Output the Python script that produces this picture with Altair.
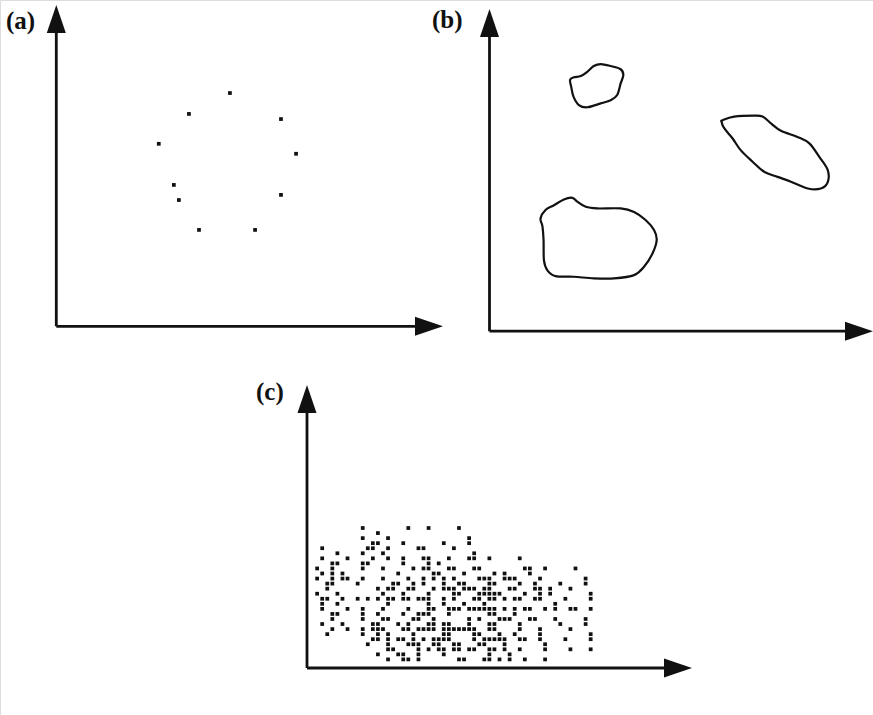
import altair as alt
import pandas as pd

INK = "#111111"

# Panel labels
LABELS = ["(a)", "(b)", "(c)"]

# Panel (a): a loose ring of isolated points
A_X = [4.49, 3.43, 5.81, 2.65, 6.20, 3.04, 3.17, 5.81, 3.69, 5.14]
A_Y = [7.26, 6.61, 6.45, 5.68, 5.37, 4.40, 3.93, 4.09, 3.00, 3.00]

# Panel (b): three outlined clusters (closed contours)
B1_X = [2.10, 2.20, 2.38, 2.55, 2.72, 2.90, 3.16, 3.42, 3.49, 3.42, 3.33, 3.16,
        2.90, 2.55, 2.33, 2.19, 2.13]
B1_Y = [7.80, 7.88, 7.92, 8.05, 8.23, 8.29, 8.23, 8.13, 7.95, 7.69, 7.33, 7.17,
        7.07, 6.95, 7.02, 7.28, 7.59]
B2_X = [6.08, 6.38, 6.90, 7.12, 7.34, 7.60, 8.03, 8.34, 8.60, 8.82, 8.82, 8.64,
        8.30, 7.86, 7.51, 7.16, 6.86, 6.55, 6.34, 6.12, 6.05]
B2_Y = [6.55, 6.66, 6.69, 6.66, 6.45, 6.22, 6.03, 5.83, 5.41, 5.00, 4.63, 4.43,
        4.43, 4.64, 4.79, 4.95, 5.26, 5.62, 5.98, 6.30, 6.50]
B3_X = [1.38, 1.33, 1.46, 1.68, 1.94, 2.16, 2.29, 2.51, 2.81, 3.42, 3.77, 4.07,
        4.29, 4.36, 4.25, 4.03, 3.77, 3.25, 2.72, 2.20, 1.72, 1.51, 1.42, 1.41]
B3_Y = [3.26, 3.50, 3.76, 3.91, 4.09, 4.14, 4.02, 3.86, 3.81, 3.81, 3.70, 3.45,
        3.14, 2.83, 2.41, 2.00, 1.74, 1.64, 1.64, 1.69, 1.71, 1.89, 2.20, 2.83]

# Panel (c): a dense cloud on a regular grid; each row lists its occupied
# columns, top row first
C_ROWS = [
    [9, 18, 22, 28],
    [12],
    [9, 14, 30],
    [11, 12, 17, 25, 30],
    [1, 10, 11, 14, 20, 21, 27],
    [4, 9, 13, 31],
    [1, 6, 11, 14, 17, 21, 22, 26, 30, 31, 34, 40],
    [3, 4, 9, 10, 17, 22, 24],
    [0, 3, 9, 13, 19, 21, 22, 26, 27, 31, 32, 41, 42, 45, 51],
    [1, 3, 5, 16, 23, 24, 29, 35, 37, 42],
    [0, 3, 5, 6, 9, 13, 18, 21, 23, 25, 27, 32, 33, 34, 37, 38, 39, 44, 53],
    [2, 3, 8, 15, 16, 19, 21, 25, 28, 29, 34, 35, 40, 43, 48, 53],
    [2, 12, 14, 15, 18, 19, 23, 25, 26, 27, 29, 30, 31, 33, 34, 38, 39, 43, 44, 46, 50],
    [0, 4, 13, 17, 22, 27, 28, 32, 33, 34, 35, 36, 41, 44, 46, 54],
    [1, 2, 5, 8, 10, 12, 14, 15, 17, 18, 20, 21, 22, 25, 27, 31, 32, 34, 35, 37,
     39, 40, 43, 44, 49, 54],
    [1, 4, 14, 22, 25, 29, 33, 47],
    [1, 6, 9, 13, 18, 22, 23, 26, 27, 28, 30, 31, 32, 33, 34, 35, 37, 39, 41, 42,
     45, 47, 50, 51, 54],
    [3, 4, 9, 12, 17, 20, 21, 22, 26, 34, 35, 39],
    [3, 9, 13, 14, 19, 20, 23, 30, 32, 36, 37, 38, 42, 43, 47, 53],
    [1, 5, 11, 12, 16, 18, 22, 23, 25, 26, 30, 34, 35, 40, 48, 53],
    [3, 6, 9, 11, 12, 13, 17, 18, 20, 21, 22, 23, 25, 26, 27, 28, 29, 30, 31, 34,
     35, 40, 44, 50],
    [2, 9, 12, 14, 19, 25, 26, 31, 32, 36, 39, 44, 54],
    [11, 12, 14, 16, 17, 19, 21, 23, 24, 25, 26, 31, 33, 34, 35, 36, 37, 40, 41,
     44, 49, 54],
    [10, 14, 18, 19, 20, 23, 24, 27, 28, 32, 33, 37, 45],
    [14, 15, 20, 22, 24, 25, 27, 28, 30, 31, 34, 35, 37, 40, 45, 50, 54],
    [12, 16, 17, 20, 25, 34, 38],
    [14, 17, 18, 20, 28, 29, 33, 34, 36, 38, 41, 45],
]

# Layout of each panel: data domain and the pixel span it occupies
LAYOUT = {
    "a": dict(xdom=[0, 10], ydom=[0, 10], xr=[56.3, 443], yr=[326.3, 5],
              label=(6, 21)),
    "b": dict(xdom=[0, 10], ydom=[0, 10], xr=[489.5, 873], yr=[331.2, 9],
              label=(432, 20)),
    "c": dict(xdom=[-2, 74], ydom=[-0.7, 55.3], xr=[307, 692], yr=[668, 385],
              label=(256, 392)),
}

# Arrowhead drawn with its tip at the symbol origin, pointing up
ARROW = "M0,0 L-0.34,1 L0.34,1 Z"
ARROW_LEN = 28
ARROW_SIZE = (2 * ARROW_LEN) ** 2


def scales(key):
    p = LAYOUT[key]
    return (alt.Scale(domain=p["xdom"], range=p["xr"], nice=False, zero=False),
            alt.Scale(domain=p["ydom"], range=p["yr"], nice=False, zero=False))


def axes(key):
    p = LAYOUT[key]
    xs, ys = scales(key)
    x0, x1 = p["xdom"]
    y0, y1 = p["ydom"]
    # shafts stop just inside the arrowheads
    ux = (x1 - x0) / abs(p["xr"][1] - p["xr"][0])
    uy = (y1 - y0) / abs(p["yr"][1] - p["yr"][0])
    xe = x1 - (ARROW_LEN - 4) * ux
    ye = y1 - (ARROW_LEN - 4) * uy
    shafts = pd.DataFrame({"x": [x0, x0], "x2": [xe, x0],
                           "y": [y0, y0], "y2": [y0, ye]})
    heads = pd.DataFrame({"x": [x1, x0], "y": [y0, y1], "angle": [90, 0]})
    rule = alt.Chart(shafts).mark_rule(strokeWidth=2.8, color=INK).encode(
        x=alt.X("x:Q", scale=xs, axis=None), x2="x2:Q",
        y=alt.Y("y:Q", scale=ys, axis=None), y2="y2:Q")
    head = alt.Chart(heads).mark_point(
        shape=ARROW, size=ARROW_SIZE, filled=True, color=INK, opacity=1,
        strokeWidth=0).encode(
        x=alt.X("x:Q", scale=xs, axis=None),
        y=alt.Y("y:Q", scale=ys, axis=None),
        angle=alt.Angle("angle:Q", scale=None))
    return [rule, head]


def label(key, text):
    lx, ly = LAYOUT[key]["label"]
    return alt.Chart(pd.DataFrame({"t": [text]})).mark_text(
        font="Liberation Serif", fontWeight="bold", fontSize=25, color=INK,
        align="left", baseline="middle").encode(
        text="t:N", x=alt.value(lx), y=alt.value(ly))


def dots(key, df, size):
    xs, ys = scales(key)
    return alt.Chart(df).mark_square(size=size, color=INK, opacity=1).encode(
        x=alt.X("x:Q", scale=xs, axis=None),
        y=alt.Y("y:Q", scale=ys, axis=None))


# panel (a)
df_a = pd.DataFrame({"x": A_X, "y": A_Y})
panel_a = alt.layer(*axes("a"), dots("a", df_a, 14), label("a", LABELS[0]))

# panel (b)
rows = []
for name, bx, by in (("b1", B1_X, B1_Y), ("b2", B2_X, B2_Y), ("b3", B3_X, B3_Y)):
    for i, (x, y) in enumerate(zip(bx, by)):
        rows.append({"blob": name, "i": i, "x": x, "y": y})
df_b = pd.DataFrame(rows)
xs_b, ys_b = scales("b")
contours = alt.Chart(df_b).mark_line(
    interpolate="cardinal-closed", strokeWidth=2.2, color=INK).encode(
    x=alt.X("x:Q", scale=xs_b, axis=None),
    y=alt.Y("y:Q", scale=ys_b, axis=None),
    detail="blob:N", order="i:Q")
panel_b = alt.layer(*axes("b"), contours, label("b", LABELS[1]))

# panel (c)
n = len(C_ROWS)
pts = [{"x": c, "y": n - r} for r, cols in enumerate(C_ROWS) for c in cols]
df_c = pd.DataFrame(pts)
panel_c = alt.layer(*axes("c"), dots("c", df_c, 14), label("c", LABELS[2]))

chart = alt.layer(panel_a, panel_b, panel_c).resolve_scale(
    x="independent", y="independent"
).properties(
    width=873, height=715, padding=0,
    autosize=alt.AutoSizeParams(type="none"),
).configure_view(stroke=None).configure(background="white")

chart.save("out.html", embed_options={"renderer": "svg", "actions": False})
